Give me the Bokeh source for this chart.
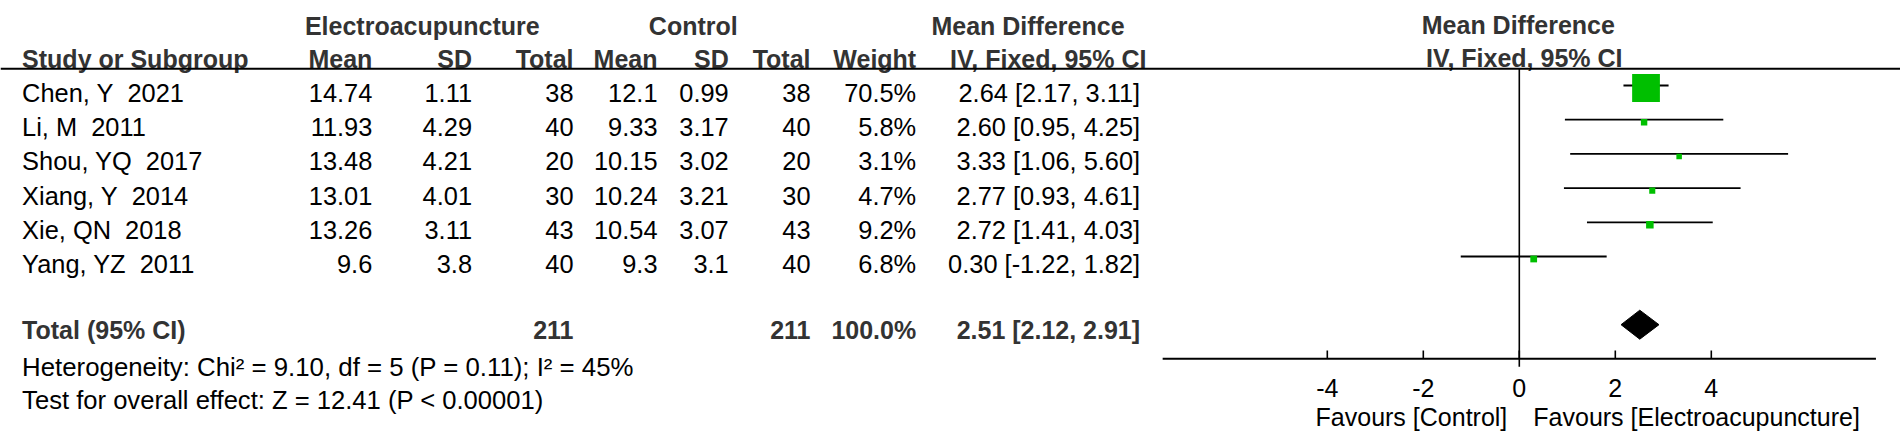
from bokeh.plotting import figure
from bokeh.models import ColumnDataSource, Range1d, Span
from bokeh.core.properties import value
from bokeh.embed import file_html
from bokeh.resources import INLINE

# ---------------- data ----------------
studies = ["Chen, Y\u00a0 2021", "Li, M\u00a0 2011", "Shou, YQ\u00a0 2017", "Xiang, Y\u00a0 2014",
           "Xie, QN\u00a0 2018", "Yang, YZ\u00a0 2011"]
e_mean = [14.74, 11.93, 13.48, 13.01, 13.26, 9.6]
e_sd = [1.11, 4.29, 4.21, 4.01, 3.11, 3.8]
e_total = [38, 40, 20, 30, 43, 40]
c_mean = [12.1, 9.33, 10.15, 10.24, 10.54, 9.3]
c_sd = [0.99, 3.17, 3.02, 3.21, 3.07, 3.1]
c_total = [38, 40, 20, 30, 43, 40]
weight = [70.5, 5.8, 3.1, 4.7, 9.2, 6.8]
md = [2.64, 2.60, 3.33, 2.77, 2.72, 0.30]
ci_low = [2.17, 0.95, 1.06, 0.93, 1.41, -1.22]
ci_high = [3.11, 4.25, 5.60, 4.61, 4.03, 1.82]

total_e = 211
total_c = 211
total_weight = 100.0
total_md = 2.51
total_low = 2.12
total_high = 2.91

heterogeneity = "Heterogeneity: Chi\u00b2 = 9.10, df = 5 (P = 0.11); I\u00b2 = 45%"
overall = "Test for overall effect: Z = 12.41 (P < 0.00001)"
ticks = [-4, -2, 0, 2, 4]
axis_limits = [-7.43, 7.43]
fav_left = "Favours [Control]"
fav_right = "Favours [Electroacupuncture]"

# ---------------- layout ----------------
W, H = 1900, 444
PX_PER_UNIT = 48.0
ZERO_PX = 1518.8
md_start = -ZERO_PX / PX_PER_UNIT
md_end = md_start + W / PX_PER_UNIT

FONT = value("Liberation Sans")
FS = "25.4px"
FS_B = "25px"
HEAD_COLOR = "#333333"
GREEN = "#00BF00"

p = figure(width=W, height=H, output_backend="svg", toolbar_location=None,
           x_range=Range1d(0, W), y_range=Range1d(H, 0),
           min_border=0, x_axis_location=None, y_axis_location=None,
           outline_line_color=None, background_fill_color="white",
           border_fill_color="white")
p.grid.visible = False
p.extra_x_ranges = {"md": Range1d(md_start, md_end)}


def txt(x, y, texts, align="left", bold=False, color="black", rng="default", x_offset=0, size=None):
    src = ColumnDataSource(dict(x=x, y=y, t=texts))
    fs = size if size else (FS_B if bold else FS)
    p.text(x="x", y="y", text="t", source=src, text_font=FONT, text_font_size=fs,
           text_font_style="bold" if bold else "normal", text_align=align,
           text_baseline="middle", text_color=color, x_range_name=rng, x_offset=x_offset)


n = len(studies)
line_y = [85 + 34.2 * i for i in range(n)]
text_y = [ly + 7.5 for ly in line_y]
box_y = [ly + 2.5 for ly in line_y]

# header rows
HY1, HY2 = 25, 58
txt([421.8, 692.8, 1027.5], [HY1] * 3, ["Electroacupuncture", "Control", "Mean Difference"],
    align="center", bold=True, color=HEAD_COLOR)
txt([0], [HY1 - 1], ["Mean Difference"], align="center", bold=True, color=HEAD_COLOR, rng="md", x_offset=-1)
txt([0], [HY2 - 1], ["IV, Fixed, 95% CI"], align="center", bold=True, color=HEAD_COLOR, rng="md", x_offset=5)
txt([21.6], [HY2], ["Study or Subgroup"], bold=True, color=HEAD_COLOR)
col_right = [371.8, 471.5, 573, 657, 728.2, 810, 915.7]
txt(col_right, [HY2] * 7, ["Mean", "SD", "Total", "Mean", "SD", "Total", "Weight"],
    align="right", bold=True, color=HEAD_COLOR)
txt([1047.7], [HY2], ["IV, Fixed, 95% CI"], align="center", bold=True, color=HEAD_COLOR)

p.add_layout(Span(location=68.3, dimension="width", line_color="black", line_width=2))

# study rows
CI_RIGHT = 1139.6
txt([21.6] * n, text_y, studies)
txt([col_right[0]] * n, text_y, [str(v) for v in e_mean], align="right")
txt([col_right[1]] * n, text_y, [str(v) for v in e_sd], align="right")
txt([col_right[2]] * n, text_y, [str(v) for v in e_total], align="right")
txt([col_right[3]] * n, text_y, [str(v) for v in c_mean], align="right")
txt([col_right[4]] * n, text_y, [str(v) for v in c_sd], align="right")
txt([col_right[5]] * n, text_y, [str(v) for v in c_total], align="right")
txt([col_right[6]] * n, text_y, ["%.1f%%" % w for w in weight], align="right")
txt([CI_RIGHT] * n, text_y, ["%.2f [%.2f, %.2f]" % (m, lo, hi) for m, lo, hi in zip(md, ci_low, ci_high)],
    align="right")

# total row
TY = 329.5
txt([21.6], [TY], ["Total (95% CI)"], bold=True, color=HEAD_COLOR)
txt([col_right[2], col_right[5], col_right[6], CI_RIGHT], [TY] * 4,
    [str(total_e), str(total_c), "%.1f%%" % total_weight,
     "%.2f [%.2f, %.2f]" % (total_md, total_low, total_high)],
    align="right", bold=True, color=HEAD_COLOR)
txt([21.6], [366], [heterogeneity], size="25.8px")
txt([21.6], [399.5], [overall], size="25.6px")

# forest plot
AXIS_Y = 358.3
p.segment(x0=[0], y0=[68.3], x1=[0], y1=[AXIS_Y + 8], x_range_name="md", line_color="black", line_width=1.6)
p.segment(x0=ci_low, y0=line_y, x1=ci_high, y1=line_y, x_range_name="md",
          line_color="black", line_width=1.8)
sizes = [4.5 + 0.33 * w for w in weight]
p.rect(x=md, y=box_y, width=sizes, height=sizes, width_units="screen", height_units="screen",
       x_range_name="md", fill_color=GREEN, line_color=None)
DY = 324.2
DH = 14.5
p.patch(x=[total_low, total_md, total_high, total_md], y=[DY, DY - DH, DY, DY + DH],
        x_range_name="md", fill_color="black", line_color="black")

# manual axis
p.segment(x0=[axis_limits[0]], y0=[AXIS_Y], x1=[axis_limits[1]], y1=[AXIS_Y], x_range_name="md",
          line_color="black", line_width=2)
p.segment(x0=ticks, y0=[AXIS_Y - 8.3] * len(ticks), x1=ticks, y1=[AXIS_Y] * len(ticks),
          x_range_name="md", line_color="black", line_width=1.6)
txt(ticks, [387] * len(ticks), [str(t) for t in ticks], align="center", rng="md", size="25px")
txt([0], [416.5], [fav_left], align="right", rng="md", x_offset=-12, size="25px")
txt([0], [416.5], [fav_right], align="left", rng="md", x_offset=14, size="25px")

open("out.html", "w").write(file_html(p, INLINE))
